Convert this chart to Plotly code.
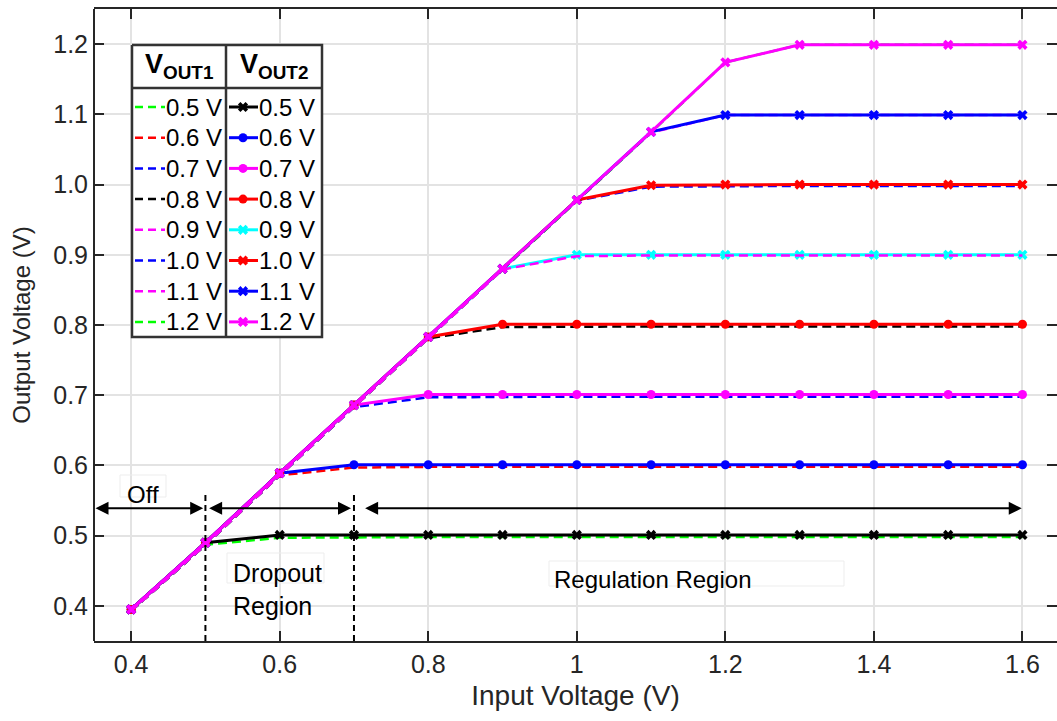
import plotly.graph_objects as go

# Input voltage sweep (V)
vin = [0.4, 0.5, 0.6, 0.7, 0.8, 0.9, 1.0, 1.1, 1.2, 1.3, 1.4, 1.5, 1.6]

# Output 1 (dashed traces), one per target voltage
vout1_labels = ["0.5 V", "0.6 V", "0.7 V", "0.8 V", "0.9 V", "1.0 V", "1.1 V", "1.2 V"]
vout1_05 = [0.393, 0.487, 0.497, 0.498, 0.498, 0.498, 0.498, 0.498, 0.498, 0.498, 0.498, 0.498, 0.498]
vout1_06 = [0.393, 0.487, 0.586, 0.597, 0.598, 0.598, 0.598, 0.598, 0.598, 0.598, 0.598, 0.598, 0.598]
vout1_07 = [0.393, 0.487, 0.586, 0.683, 0.697, 0.698, 0.698, 0.698, 0.698, 0.698, 0.698, 0.698, 0.698]
vout1_08 = [0.393, 0.487, 0.586, 0.683, 0.781, 0.797, 0.798, 0.798, 0.798, 0.798, 0.798, 0.798, 0.798]
vout1_09 = [0.393, 0.487, 0.586, 0.683, 0.781, 0.879, 0.898, 0.899, 0.899, 0.899, 0.899, 0.899, 0.899]
vout1_10 = [0.393, 0.487, 0.586, 0.683, 0.781, 0.879, 0.977, 0.997, 0.998, 0.998, 0.998, 0.998, 0.998]
vout1_11 = [0.393, 0.487, 0.586, 0.683, 0.781, 0.879, 0.977, 1.074, 1.099, 1.099, 1.099, 1.099, 1.099]
vout1_12 = [0.393, 0.487, 0.586, 0.683, 0.781, 0.879, 0.977, 1.074, 1.174, 1.199, 1.199, 1.199, 1.199]

# Output 2 (solid traces with markers)
vout2_labels = ["0.5 V", "0.6 V", "0.7 V", "0.8 V", "0.9 V", "1.0 V", "1.1 V", "1.2 V"]
vout2_05 = [0.395, 0.490, 0.501, 0.501, 0.501, 0.501, 0.501, 0.501, 0.501, 0.501, 0.501, 0.501, 0.501]
vout2_06 = [0.395, 0.490, 0.589, 0.601, 0.601, 0.601, 0.601, 0.601, 0.601, 0.601, 0.601, 0.601, 0.601]
vout2_07 = [0.395, 0.490, 0.589, 0.686, 0.701, 0.701, 0.701, 0.701, 0.701, 0.701, 0.701, 0.701, 0.701]
vout2_08 = [0.395, 0.490, 0.589, 0.686, 0.783, 0.801, 0.801, 0.801, 0.801, 0.801, 0.801, 0.801, 0.801]
vout2_09 = [0.395, 0.490, 0.589, 0.686, 0.783, 0.880, 0.900, 0.900, 0.900, 0.900, 0.900, 0.900, 0.900]
vout2_10 = [0.395, 0.490, 0.589, 0.686, 0.783, 0.880, 0.978, 0.999, 1.000, 1.000, 1.000, 1.000, 1.000]
vout2_11 = [0.395, 0.490, 0.589, 0.686, 0.783, 0.880, 0.978, 1.075, 1.099, 1.099, 1.099, 1.099, 1.099]
vout2_12 = [0.395, 0.490, 0.589, 0.686, 0.783, 0.880, 0.978, 1.075, 1.174, 1.199, 1.199, 1.199, 1.199]

x_ticks = [0.4, 0.6, 0.8, 1.0, 1.2, 1.4, 1.6]
x_tick_text = ["0.4", "0.6", "0.8", "1", "1.2", "1.4", "1.6"]
y_ticks = [0.4, 0.5, 0.6, 0.7, 0.8, 0.9, 1.0, 1.1, 1.2]
y_tick_text = ["0.4", "0.5", "0.6", "0.7", "0.8", "0.9", "1.0", "1.1", "1.2"]

vout1_series = [vout1_05, vout1_06, vout1_07, vout1_08, vout1_09, vout1_10, vout1_11, vout1_12]
vout2_series = [vout2_05, vout2_06, vout2_07, vout2_08, vout2_09, vout2_10, vout2_11, vout2_12]

GREEN, RED, BLUE, BLACK, MAG, CYAN = "#00ff00", "#ff0000", "#0000ff", "#000000", "#ff00ff", "#00ffff"
vout1_colors = [GREEN, RED, BLUE, BLACK, MAG, BLUE, MAG, GREEN]
vout2_colors = [BLACK, BLUE, MAG, RED, CYAN, RED, BLUE, MAG]
vout2_symbols = ["x", "circle", "circle", "circle", "x", "x", "x", "x"]
# dashed traces drawn over the solid ones (the rest sit underneath)
vout1_on_top = ["0.9 V"]

FONT = "Liberation Sans, Arial, sans-serif"
AX = "#262626"
DASH = "9px,5px"

W, H = 1057, 721
ML, MR, MT, MB = 94, 0, 9, 80


def add_vout1(ys, c, name):
    fig.add_trace(go.Scatter(x=vin, y=ys, mode="lines", name="VOUT1 " + name,
                             line=dict(color=c, width=2.5, dash=DASH), showlegend=False))


fig = go.Figure()

for ys, c, name in zip(vout1_series, vout1_colors, vout1_labels):
    if name not in vout1_on_top:
        add_vout1(ys, c, name)

for ys, c, sym, name in zip(vout2_series, vout2_colors, vout2_symbols, vout2_labels):
    fig.add_trace(go.Scatter(x=vin, y=ys, mode="lines+markers", name="VOUT2 " + name,
                             line=dict(color=c, width=3),
                             marker=dict(color=c, symbol=sym, size=9, line=dict(width=0)),
                             showlegend=False))

for ys, c, name in zip(vout1_series, vout1_colors, vout1_labels):
    if name in vout1_on_top:
        add_vout1(ys, c, name)

# ---- table-style key, drawn in pixel space on an overlay axis pair ----
KX = dict(left=132, right=322, mid=226, top=45, head=88, bottom=337)
row_y0, row_dy = 107, 30.7
KEY_FONT = 24

fig.add_trace(go.Scatter(x=[KX["left"], KX["right"], KX["right"], KX["left"], KX["left"]],
                         y=[KX["top"], KX["top"], KX["bottom"], KX["bottom"], KX["top"]],
                         mode="lines", fill="toself", fillcolor="white",
                         line=dict(color="#333333", width=2.5),
                         xaxis="x2", yaxis="y2", showlegend=False, hoverinfo="skip"))
fig.add_trace(go.Scatter(x=[KX["left"], KX["right"], None, KX["mid"], KX["mid"]],
                         y=[KX["head"], KX["head"], None, KX["top"], KX["bottom"]],
                         mode="lines", line=dict(color="#333333", width=2.5),
                         xaxis="x2", yaxis="y2", showlegend=False, hoverinfo="skip"))

annotations = []
for i, (c, lab) in enumerate(zip(vout1_colors, vout1_labels)):
    yy = row_y0 + row_dy * i
    fig.add_trace(go.Scatter(x=[135, 165], y=[yy, yy], mode="lines",
                             line=dict(color=c, width=2.5, dash="8px,5px"),
                             xaxis="x2", yaxis="y2", showlegend=False, hoverinfo="skip"))
    annotations.append(dict(x=164, y=yy, xref="x2", yref="y2", text=lab, showarrow=False,
                            xanchor="left", yanchor="middle",
                            font=dict(family=FONT, size=KEY_FONT, color="black")))
for i, (c, sym, lab) in enumerate(zip(vout2_colors, vout2_symbols, vout2_labels)):
    yy = row_y0 + row_dy * i
    fig.add_trace(go.Scatter(x=[229, 243, 258], y=[yy, yy, yy], mode="lines",
                             line=dict(color=c, width=3),
                             xaxis="x2", yaxis="y2", showlegend=False, hoverinfo="skip"))
    fig.add_trace(go.Scatter(x=[243], y=[yy], mode="markers",
                             marker=dict(color=c, symbol=sym, size=9, line=dict(width=0)),
                             xaxis="x2", yaxis="y2", showlegend=False, hoverinfo="skip"))
    annotations.append(dict(x=257, y=yy, xref="x2", yref="y2", text=lab, showarrow=False,
                            xanchor="left", yanchor="middle",
                            font=dict(family=FONT, size=KEY_FONT, color="black")))

annotations.append(dict(x=179, y=66, xref="x2", yref="y2", text="<b>V<sub>OUT1</sub></b>",
                        showarrow=False, font=dict(family=FONT, size=27, color="black")))
annotations.append(dict(x=274, y=66, xref="x2", yref="y2", text="<b>V<sub>OUT2</sub></b>",
                        showarrow=False, font=dict(family=FONT, size=27, color="black")))

# ---- operating-region markers ----
arrow_y = 0.539
region_spans = [(0.35, 0.497), (0.503, 0.696), (0.713, 1.599)]
for x0, x1 in region_spans:
    annotations.append(dict(x=x1, y=arrow_y, ax=x0, ay=arrow_y, xref="x", yref="y",
                            axref="x", ayref="y", text="", showarrow=True,
                            arrowhead=2, startarrowhead=2, arrowside="end+start",
                            arrowsize=1.3, startarrowsize=1.3, arrowwidth=2, arrowcolor="black"))

shapes = []
for xv in (0.5, 0.7):
    shapes.append(dict(type="line", x0=xv, x1=xv, y0=0.35, y1=0.563, xref="x", yref="y",
                       line=dict(color="black", width=2, dash="6px,4px")))

# left axis line (the right edge of the frame carries only tick marks)
shapes.append(dict(type="line", x0=0, x1=0, y0=0, y1=1, xref="paper", yref="paper",
                   line=dict(color=AX, width=2), layer="above"))

# faint text boxes
for (x0, x1, y0, y1) in [(120, 166, 475, 497), (227, 324, 553, 583), (549, 844, 561, 586)]:
    shapes.append(dict(type="rect", x0=x0, x1=x1, y0=y0, y1=y1, xref="x2", yref="y2",
                       line=dict(color="#ededed", width=1), fillcolor="rgba(0,0,0,0)",
                       layer="above"))

LBL_FONT = 24
annotations.append(dict(x=125, y=494, xref="x2", yref="y2", text="Off", showarrow=False,
                        xanchor="left", yanchor="middle",
                        font=dict(family=FONT, size=LBL_FONT, color="black")))
annotations.append(dict(x=231, y=589, xref="x2", yref="y2", text="Dropout<br>Region",
                        showarrow=False, xanchor="left", yanchor="middle", align="left",
                        font=dict(family=FONT, size=25, color="black")))
annotations.append(dict(x=552, y=579, xref="x2", yref="y2", text="Regulation Region",
                        showarrow=False, xanchor="left", yanchor="middle",
                        font=dict(family=FONT, size=LBL_FONT, color="black")))

fig.update_layout(
    width=W, height=H,
    margin=dict(l=ML, r=MR, t=MT, b=MB),
    paper_bgcolor="white", plot_bgcolor="white",
    font=dict(family=FONT, color=AX),
    xaxis=dict(range=[0.35, 1.6465], tickvals=x_ticks, ticktext=x_tick_text,
               showgrid=True, gridcolor="#e3e3e3", gridwidth=2, zeroline=False,
               showline=True, linecolor=AX, linewidth=2, mirror="ticks",
               ticks="inside", ticklen=10, tickwidth=2, tickcolor=AX,
               tickfont=dict(family=FONT, size=25, color=AX),
               title=dict(text="Input Voltage (V)", font=dict(family=FONT, size=28, color=AX),
                          standoff=8)),
    yaxis=dict(range=[0.35, 1.25], tickvals=y_ticks, ticktext=y_tick_text,
               showgrid=True, gridcolor="#e3e3e3", gridwidth=2, zeroline=False,
               showline=False, mirror="ticks",
               ticks="inside", ticklen=10, tickwidth=2, tickcolor=AX,
               ticklabelstandoff=5,
               tickfont=dict(family=FONT, size=25, color=AX),
               title=dict(text="Output Voltage (V)", font=dict(family=FONT, size=24, color=AX),
                          standoff=15)),
    xaxis2=dict(overlaying="x", range=[ML, W - MR], visible=False, fixedrange=True),
    yaxis2=dict(overlaying="y", range=[H - MB, MT], visible=False, fixedrange=True),
    shapes=shapes,
    annotations=annotations,
    showlegend=False,
)

fig.write_html("out.html")
